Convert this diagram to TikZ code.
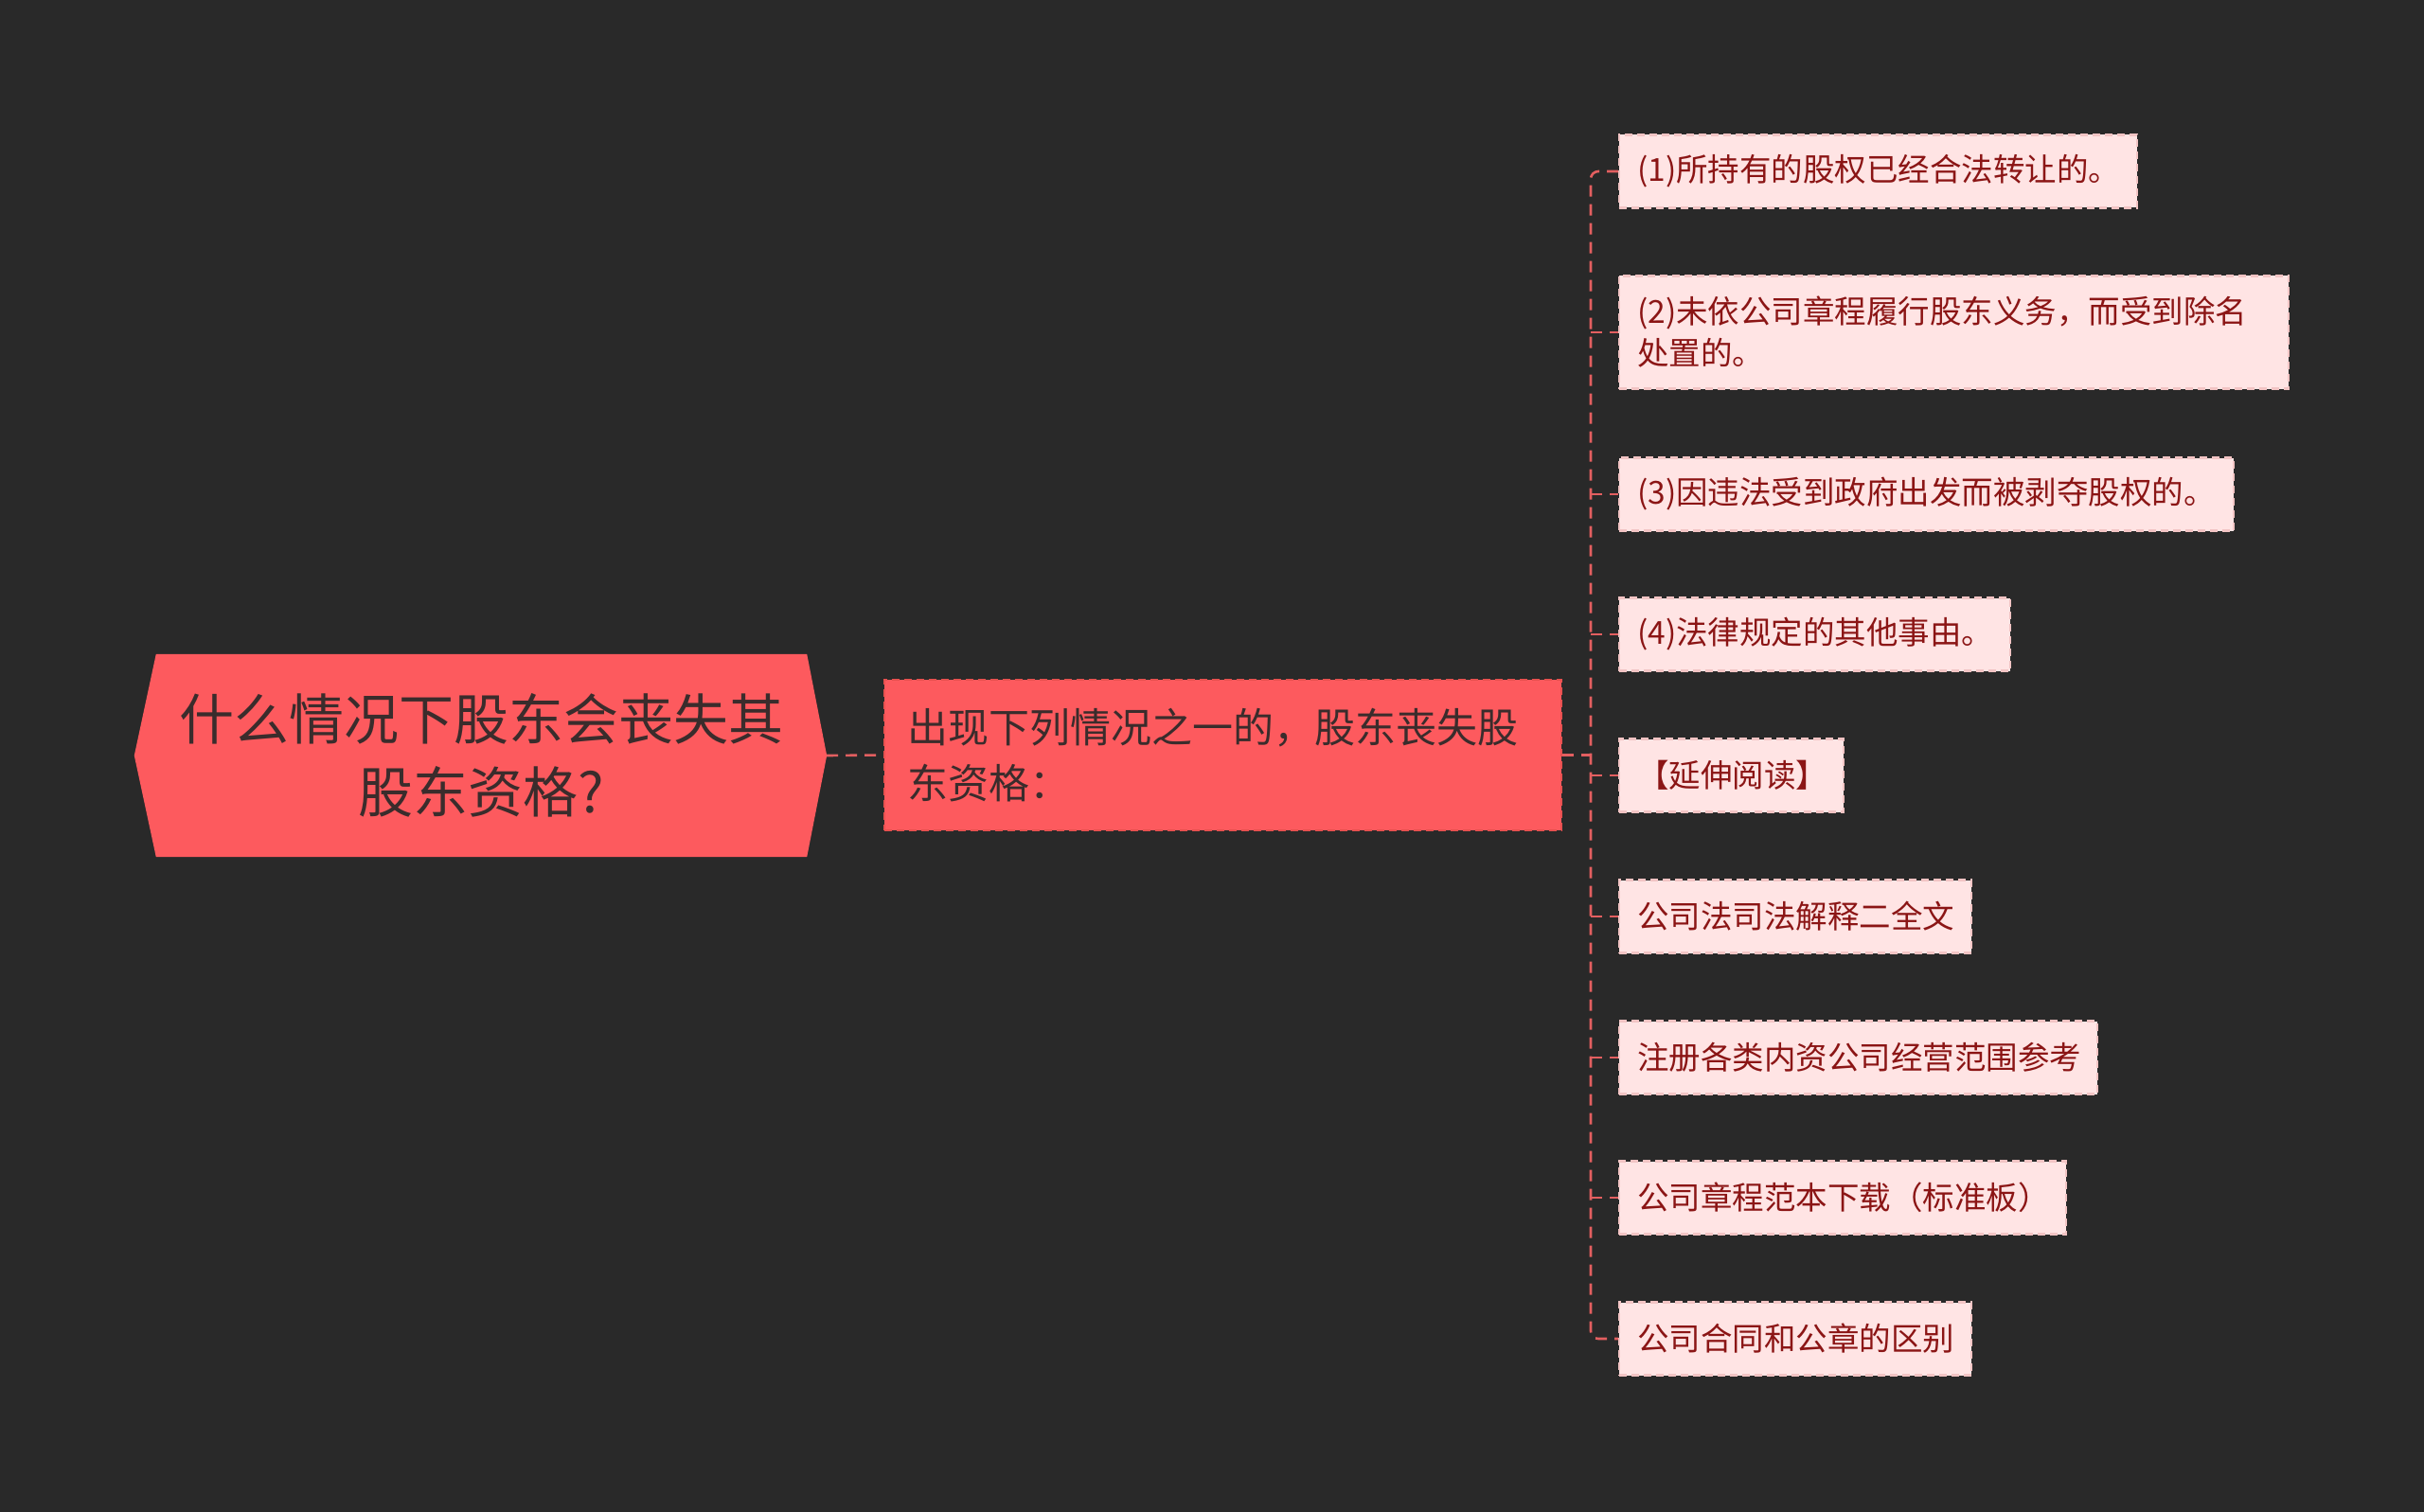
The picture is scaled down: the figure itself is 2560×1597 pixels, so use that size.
\documentclass[tikz,border=0pt]{standalone}
\usepackage{fontspec}
\setmainfont{Noto Sans CJK SC}
\usetikzlibrary{calc}
\definecolor{bgc}{HTML}{292929}
\definecolor{rootfill}{HTML}{FD5A5E}
\definecolor{roottext}{HTML}{3A2C2C}
\definecolor{leaffill}{HTML}{FFE4E4}
\definecolor{leafdraw}{HTML}{F2C4C4}
\definecolor{leaftext}{HTML}{8B1515}
\definecolor{connc}{HTML}{E35F60}
\definecolor{middraw}{HTML}{E8504F}
\tikzset{
  conn/.style={draw=connc, line width=2.6pt, dash pattern=on 12pt off 8pt},
  midbox/.style={fill=rootfill, draw=middraw, line width=2.4pt, dash pattern=on 8pt off 5pt,
    inner xsep=24pt, inner ysep=0pt, minimum height=159pt, align=left, text=roottext,
    font=\fontsize{43}{59}\selectfont},
  leafbox/.style={fill=leaffill, draw=leafdraw, line width=2.4pt, dash pattern=on 8pt off 5pt,
    inner xsep=19pt, inner ysep=0pt, minimum height=77pt, align=left, anchor=west, text=leaftext,
    font=\fontsize{33.5}{44}\selectfont},
  rootbox/.style={inner sep=0pt, minimum width=687pt, minimum height=214pt, align=center,
    text=roottext, font=\fontsize{58}{77}\selectfont}
}
\begin{document}
\begin{tikzpicture}[x=1pt,y=-1pt]
\fill[bgc] (0,0) rectangle (2560,1597);
\useasboundingbox (0,0) rectangle (2560,1597);
% root
\node[rootbox] (root) at (508.5,798) {};
\coordinate (rootpt) at ($(root.east)+(21,0)$);
\fill[rootfill] (root.north west) -- (root.north east) -- (rootpt) -- (root.south east) -- (root.south west) -- ($(root.west)+(-23,0)$) -- cycle;
\node[rootbox] (roottxt) at (root.center) {什么情况下股东会丧失其\\股东资格?};
% middle
\node[midbox, text width=667pt] (mid) at (1291.5,797.5) {出现下列情况之一的，股东丧失股\\东资格：};
% leaves
\node[leafbox, text width=509pt] (l1) at (1709,181) {(1)所持有的股权已经合法转让的。};
\node[leafbox, text width=669pt, minimum height=119pt] (l2) at (1709,351) {(2)未依公司章程履行股东义务，而受到除名\\处置的。};
\node[leafbox, text width=611pt] (l3) at (1709,522) {(3)因违法受到政府出发而被剥夺股权的。};
\node[leafbox, text width=375pt] (l4) at (1709,670) {(4)法律规定的其他事由。};
\node[leafbox, text width=199pt] (l5) at (1709,819) {【延伸阅读】};
\node[leafbox, text width=334pt] (l6) at (1709,968) {公司法司法解释二全文};
\node[leafbox, text width=467pt] (l7) at (1709,1117) {注册各类内资公司经营范围参考};
\node[leafbox, text width=434pt] (l8) at (1709,1265) {公司章程范本下载（标准板）};
\node[leafbox, text width=334pt] (l9) at (1709,1414) {公司合同和公章的区别};
% connectors
\coordinate (tr) at (1680,797.5);
\draw[conn] (rootpt) -- (mid.west);
\draw[conn] (mid.east) -- (tr);
\draw[conn, rounded corners=8pt] (l1.west) -| (tr) |- (l9.west);
\foreach \n in {l2,l3,l4,l5,l6,l7,l8} {
  \draw[conn] (\n.west -| tr) -- (\n.west);
}
\end{tikzpicture}
\end{document}
